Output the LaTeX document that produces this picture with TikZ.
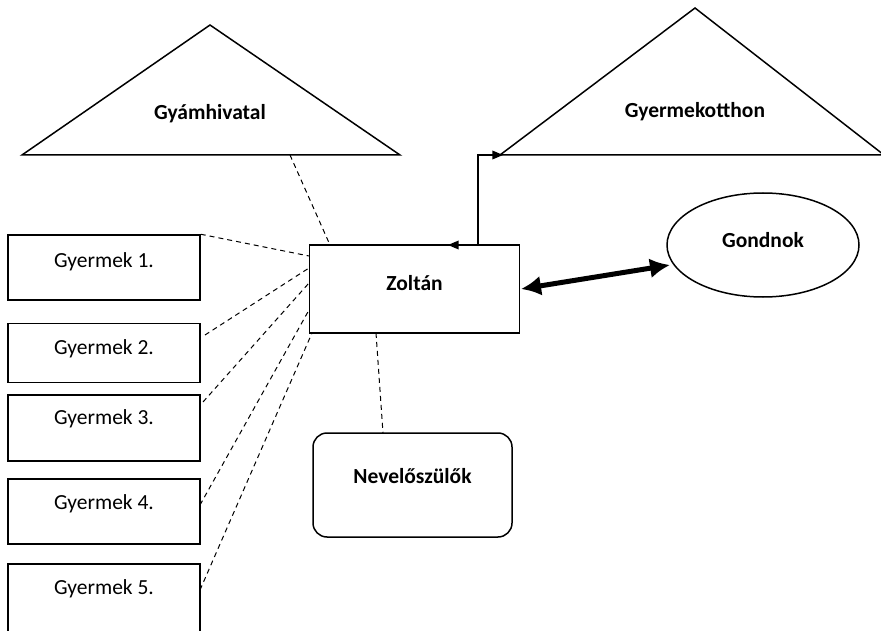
\documentclass[tikz,border=0pt]{standalone}
\usepackage{fontspec}
\setmainfont{Carlito}
\usetikzlibrary{arrows,arrows.meta,shapes.geometric}
\tikzset{
	gybox/.style={draw,line width=1.5pt,minimum width=192pt,minimum height=65pt,inner sep=0pt},
	gytext/.style={font=\fontsize{21.5}{25}\selectfont},
	bold/.style={font=\fontsize{21.5}{25}\selectfont\bfseries},
	dashline/.style={line width=1pt,dash pattern=on 5pt off 4pt},
	vastag/.style={{Latex[length=20pt,width=20pt]}-{Latex[length=20pt,width=20pt]},line width=5pt}
}

\begin{document}
\begin{tikzpicture}[line join=miter,>=triangle 45,x=1pt,y=-1pt]
	\useasboundingbox (0,0) rectangle (881,631);
	% haromszogek
	\draw[line width=1.5pt] (22,155) -- (210,25) -- (400,155) -- cycle;
		\node[bold] (gyam) at (210,114) {Gyámhivatal};
		\coordinate (gyamalj) at (290,155);
	\draw[line width=1.5pt] (500,155) -- (695,8) -- (884,155) -- cycle;
		\node[bold] (otthon) at (695,112) {Gyermekotthon};
		\coordinate (otthonbal) at (503,155);
	% kozepso dobozok
	\node[draw,line width=1.5pt,minimum width=210pt,minimum height=88pt,inner sep=0pt] (zoltan) at (414.5,289) {};
		\node[bold] (zoltannev) at (414.5,283) {Zoltán};
	\draw[line width=1.5pt] (763,245) ellipse (96 and 52);
		\node[bold] (gondnok) at (763,240) {Gondnok};
		\coordinate (gondnokbal) at (670,265);
	\node[draw,line width=1.5pt,rounded corners=14pt,minimum width=199pt,minimum height=104pt,inner sep=0pt] (nevelo) at (412.5,485) {};
		\node[bold] (nevelonev) at (412.5,476) {Nevelőszülők};
	% gyermekek
	\node[gybox] (gy1) at (104,267.5) {};
		\node[gytext] (gy1nev) at (104,262) {Gyermek 1.};
	\node[gybox,minimum height=59pt] (gy2) at (104,353) {};
		\node[gytext] (gy2nev) at (104,349) {Gyermek 2.};
	\node[gybox,minimum height=66pt] (gy3) at (104,428) {};
		\node[gytext] (gy3nev) at (104,419) {Gyermek 3.};
	\node[gybox] (gy4) at (104,511.5) {};
		\node[gytext] (gy4nev) at (104,504) {Gyermek 4.};
	\node[gybox,minimum height=68pt] (gy5) at (104,598) {};
		\node[gytext] (gy5nev) at (104,589) {Gyermek 5.};
	% vegpontok
	\coordinate (z0) at (330,245);
	\coordinate (z1) at (309,256);
	\coordinate (z2) at (309,268);
	\coordinate (z3) at (309,283);
	\coordinate (z4) at (309,310);
	\coordinate (z5) at (312,333);
	\coordinate (z6) at (376,333);
	\coordinate (g2) at (205,335);
	\coordinate (g3) at (203,402);
	\coordinate (g4) at (200,505);
	\coordinate (g5) at (200,590);
	\coordinate (n1) at (383,433);
	% szaggatott vonalak
	\draw[dashline] (gyamalj) -- (z0);
	\draw[dashline] (gy1.north east) -- (z1);
	\draw[dashline] (g2) -- (z2);
	\draw[dashline] (g3) -- (z3);
	\draw[dashline] (g4) -- (z4);
	\draw[dashline] (g5) -- (z5);
	\draw[dashline] (z6) -- (n1);
	% nyilak
	\coordinate (kapocs) at (478,245);
	\coordinate (csucs) at (448,245);
	\draw[<->,line width=1.5pt] (csucs) -- (kapocs) |- (otthonbal);
	\draw[vastag] (521,289) -- (gondnokbal);
\end{tikzpicture}
\end{document}
